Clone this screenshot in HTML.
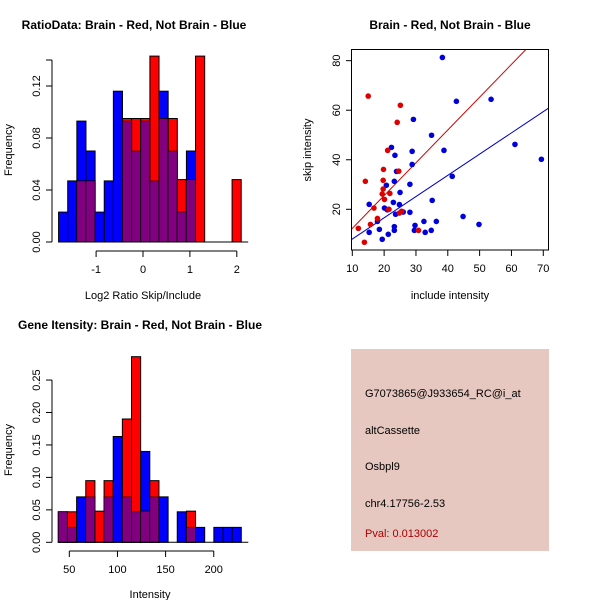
<!DOCTYPE html>
<html><head><meta charset="utf-8"><style>
body{margin:0;background:#fff;}
svg{display:block;font-family:"Liberation Sans",sans-serif;}
</style></head><body>
<svg id="s" width="600" height="600" viewBox="0 0 600 600" xmlns="http://www.w3.org/2000/svg">
<g>
<text x="134" y="29" font-size="12" font-weight="bold" text-anchor="middle">RatioData: Brain - Red, Not Brain - Blue</text>
<text x="12" y="150" font-size="11" text-anchor="middle" transform="rotate(-90 12 150)">Frequency</text>
<text x="143" y="299" font-size="11" text-anchor="middle">Log2 Ratio Skip/Include</text>
<g id="h1"></g>
<g id="h1ax"></g>
</g>
<g>
<text x="450" y="29" font-size="12" font-weight="bold" text-anchor="middle">Brain - Red, Not Brain - Blue</text>
<text x="311" y="150" font-size="11" text-anchor="middle" transform="rotate(-90 311 150)">skip intensity</text>
<text x="450" y="299" font-size="11" text-anchor="middle">include intensity</text>
<g id="sc"></g>
</g>
<g>
<text x="140" y="329" font-size="12" font-weight="bold" text-anchor="middle">Gene Itensity: Brain - Red, Not Brain - Blue</text>
<text x="12" y="450" font-size="11" text-anchor="middle" transform="rotate(-90 12 450)">Frequency</text>
<text x="150" y="598" font-size="11" text-anchor="middle">Intensity</text>
<g id="h2"></g>
<g id="h2ax"></g>
</g>
<g>
<rect x="351" y="349" width="198" height="202" fill="#e6c8c0"/>
<text x="365" y="397" font-size="11">G7073865@J933654_RC@i_at</text>
<text x="365" y="434" font-size="11">altCassette</text>
<text x="365" y="470" font-size="11">Osbpl9</text>
<text x="365" y="507" font-size="11">chr4.17756-2.53</text>
<text x="365" y="537" font-size="11" fill="#aa0000">Pval: 0.013002</text>
</g>
</svg>
<script>
// Ratio histogram data
const ratioStart = -1.8, ratioWidth = 0.1947;
const ratioBlue = [0.023,0.047,0.093,0.07,0.023,0.047,0.116,0.093,0.07,0.093,0.047,0.116,0.07,0.023,0.07,0,0,0,0,0];
const ratioRed  = [0,0,0.047,0.047,0,0,0,0.095,0.095,0.095,0.143,0.095,0.095,0.048,0.048,0.143,0,0,0,0.048];
const ratioXTicks = [-1,0,1,2];
const ratioYTicks = [0,0.04,0.08,0.12,0.14];
const ratioYLabels = ["0.00","0.04","0.08","0.12",""];
// Gene histogram data
const geneStart = 38.6, geneWidth = 9.5;
const geneBlue = [0.047,0.023,0.07,0.07,0,0.07,0.163,0.07,0.047,0.14,0.07,0.07,0,0.047,0.023,0.023,0,0.023,0.023,0.023];
const geneRed  = [0.047,0.047,0,0.095,0.048,0.095,0,0.19,0.286,0.048,0.095,0,0,0,0.048,0,0,0,0,0];
const geneXTicks = [50,100,150,200];
const geneYTicks = [0,0.05,0.10,0.15,0.20,0.25];
const geneYLabels = ["0.00","0.05","0.10","0.15","0.20","0.25"];
// Scatter data
const blueX = [38.3,42.7,53.6,61.1,69.4,29.2,34.9,38.8,41.4,22.3,23.4,28.8,28.8,23.9,23.2,20.7,28.1,25.0,35.1,22.9,24.8,15.3,20.1,21.5,21.0,23.6,26.0,28.1,29.7,32.5,36.4,44.8,49.8,23.2,23.2,29.5,32.9,34.8,18.5,21.3,15.3,19.4,17.9];
const blueY = [81.3,63.6,64.4,46.2,40.2,56.3,49.9,43.8,33.3,45.0,41.8,43.4,38.1,35.3,31.3,29.7,30.1,26.8,23.6,22.8,21.9,22.0,20.5,20.0,19.8,18.0,18.9,18.8,13.5,15.1,15.1,17.1,13.9,13.0,11.5,11.5,10.7,11.5,11.9,9.9,10.7,7.9,15.1];
const redX = [15.0,25.1,24.1,21.1,19.8,14.1,19.7,19.7,19.4,21.8,20.1,16.8,17.9,15.7,11.9,13.8,24.6,21.4,24.8,25.5,30.8];
const redY = [65.7,62.0,55.1,43.8,36.1,31.3,31.7,28.2,26.2,26.4,24.0,20.5,16.3,13.9,12.3,6.7,35.4,20.0,18.5,19.2,11.5];
const redFit = [-0.94,1.324];
const blueFit = [-0.57,0.857];
const scXTicks = [10,20,30,40,50,60,70];
const scYTicks = [20,40,60,80];

const NS = "http://www.w3.org/2000/svg";
function mk(parent, tag, attrs){const e=document.createElementNS(NS,tag);for(const k in attrs)e.setAttribute(k,attrs[k]);parent.appendChild(e);return e;}

function hist(gid, axid, start, width, blue, red, xs, ys, ticksX, ticksY, yLabels, xAxisY){
  const g=document.getElementById(gid), ax=document.getElementById(axid);
  const y0=ys(0);
  for(let i=0;i<blue.length;i++){
    const a=xs(start+i*width), b=xs(start+(i+1)*width);
    const hb=blue[i], hr=red[i];
    if(hb>0){const r=mk(g,'rect',{x:a,y:ys(hb),width:b-a,height:y0-ys(hb),fill:'#0000ff',stroke:'#000','stroke-width':1});
      
      }
    if(hr>0){const r=mk(g,'rect',{x:a,y:ys(hr),width:b-a,height:y0-ys(hr),fill:'#ff0000',stroke:'#000','stroke-width':1});
      
      }
    const m=Math.min(hb,hr);
    if(m>0){const r=mk(g,'rect',{x:a,y:ys(m),width:b-a,height:y0-ys(m),fill:'#800080',stroke:'#000','stroke-width':1,'stroke-opacity':0.5});
      
      }
  }
  const bl=mk(ax,'line',{x1:xs(start),x2:xs(start+blue.length*width)+7,y1:y0,y2:y0,stroke:'#000'});
  
  
  const yl=mk(ax,'line',{x1:52,x2:52,y1:ys(ticksY[0]),y2:ys(ticksY[ticksY.length-1]),stroke:'#000'});
  
  
  ticksY.forEach((t,i)=>{mk(ax,'line',{x1:46,x2:52,y1:ys(t),y2:ys(t),stroke:'#000'});
    const tx=mk(ax,'text',{x:40,y:ys(t),'font-size':11,'text-anchor':'middle',transform:`rotate(-90 40 ${ys(t)})`});
    tx.textContent=yLabels[i];
    
    });
  const xl=mk(ax,'line',{x1:xs(ticksX[0]),x2:xs(ticksX[ticksX.length-1]),y1:xAxisY,y2:xAxisY,stroke:'#000'});
  
  
  ticksX.forEach(t=>{mk(ax,'line',{x1:xs(t),x2:xs(t),y1:xAxisY,y2:xAxisY+6,stroke:'#000'});
    const tx=mk(ax,'text',{x:xs(t),y:xAxisY+22,'font-size':11,'text-anchor':'middle'});
    tx.textContent=String(t);
    
    });
}
hist('h1','h1ax',ratioStart,ratioWidth,ratioBlue,ratioRed,
  v=>143+v*46.9, f=>242-f*1300, ratioXTicks, ratioYTicks, ratioYLabels, 251);
hist('h2','h2ax',geneStart,geneWidth,geneBlue,geneRed,
  v=>69.3+(v-50)*0.963, f=>542.3-f*649, geneXTicks, geneYTicks, geneYLabels, 551);

(function(){
  const g=document.getElementById('sc');
  const xs=v=>352.3+(v-10)*3.183, ys=v=>209.3-(v-20)*2.477;
  const fr=mk(g,'rect',{x:351.5,y:49.5,width:197,height:200.5,fill:'none',stroke:'#000'});
  
  
  const cp=mk(g,'clipPath',{id:'cl'});mk(cp,'rect',{x:352,y:50,width:196,height:200});
  const lines=mk(g,'g',{'clip-path':'url(#cl)'});
  [[redFit,'#cc0000','red-fit-line'],[blueFit,'#0000cc','blue-fit-line']].forEach(([f,c,n])=>{
    const l=mk(lines,'line',{x1:xs(0),y1:ys(f[0]),x2:xs(80),y2:ys(f[0]+f[1]*80),stroke:c,'stroke-width':1});
    
    });
  blueX.forEach((x,i)=>{const c=mk(g,'circle',{cx:xs(x),cy:ys(blueY[i]),r:2.8,fill:'#0000dd'});
    
    });
  redX.forEach((x,i)=>{const c=mk(g,'circle',{cx:xs(x),cy:ys(redY[i]),r:2.8,fill:'#dd0000'});
    
    });
  scXTicks.forEach(t=>{mk(g,'line',{x1:xs(t),x2:xs(t),y1:250,y2:256,stroke:'#000'});
    const tx=mk(g,'text',{x:xs(t),y:272,'font-size':11,'text-anchor':'middle'});tx.textContent=t;
    
    });
  scYTicks.forEach(t=>{mk(g,'line',{x1:346,x2:352,y1:ys(t),y2:ys(t),stroke:'#000'});
    const tx=mk(g,'text',{x:340,y:ys(t),'font-size':11,'text-anchor':'middle',transform:`rotate(-90 340 ${ys(t)})`});tx.textContent=t;
    
    });
})();
</script>
</body></html>
